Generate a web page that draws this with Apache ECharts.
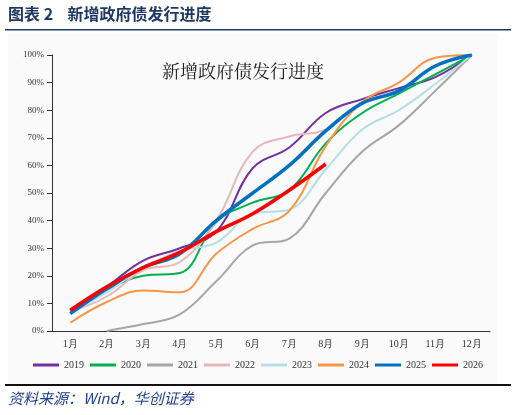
<!DOCTYPE html>
<html><head><meta charset="utf-8">
<script src="https://cdn.jsdelivr.net/npm/echarts@6/dist/echarts.min.js"></script>
<style>body{margin:0;background:#fff;}#c{width:516px;height:415px;}</style>
</head><body><div id="c"></div>
<script>
const months=['1月','2月','3月','4月','5月','6月','7月','8月','9月','10月','11月','12月'];
const yTicks=[0,10,20,30,40,50,60,70,80,90,100];
const s2019=[7,16,25.5,30,36,59,66.5,79,84,88,92,100];
const s2020=[7,15,20,21,39.5,46.5,51,68,79,86,93,100];
const s2021=[null,0,2.5,6,18,31,33.5,50,65,74.5,87,100];
const s2022=[7,12.5,22,25,40,65,70.5,73,83,87,96,100];
const s2023=[7,14,23,29,32,42.5,44,58.5,73,80,89.5,100];
const s2024=[3,10.5,14.7,14,28,37,43.5,67,83,90,99,100];
const s2025=[6.3,15.3,23,28,40,50,60,72.5,82.5,87,96,100];
const s2026=[7.5,16,23,28.5,36,42.5,51,60.5];
const names=['2019','2020','2021','2022','2023','2024','2025','2026'];
const datas=[s2019,s2020,s2021,s2022,s2023,s2024,s2025,s2026];
const colors=['#7030a0','#00b050','#a6a6a6','#e6b9b8','#b7dee8','#f79646','#0070c0','#ff0000'];
const widths=[2,2,2,2,2,2,3.5,3.5];
const serif='"Noto Serif CJK SC","Noto Sans CJK SC",serif';
const chart=echarts.init(document.getElementById('c'));
chart.setOption({
 animation:false,
 graphic:[
  {type:'text',left:8,top:6,style:{text:'图表 2    新增政府债发行进度',font:'bold 16px "Noto Sans CJK SC"',fill:'#1f3864'}},
  {type:'rect',shape:{x:5,y:29,width:506,height:1.5},style:{fill:'#1f3864'}},
  {type:'rect',shape:{x:8,y:34,width:490,height:350},style:{fill:'#fafafa'},z:-10},
  {type:'text',left:162,top:62,style:{text:'新增政府债发行进度',font:'18px '+serif,fill:'#222'}},
  {type:'rect',shape:{x:5,y:384,width:506,height:2},style:{fill:'#111'}},
  {type:'text',left:8,top:391,style:{text:'资料来源：Wind，华创证券',font:'italic 15px "Noto Sans CJK SC"',fill:'#1f3f8f'}}
 ],
 legend:{bottom:40,left:'center',itemWidth:26,itemHeight:3,itemGap:6,icon:'rect',
  textStyle:{fontSize:10,fontFamily:'serif',color:'#333'},data:names},
 grid:{left:52,right:26,top:55,bottom:84},
 xAxis:{type:'category',data:months,boundaryGap:true,
  axisLine:{lineStyle:{color:'#333'}},axisTick:{lineStyle:{color:'#333'}},
  axisLabel:{fontSize:10,fontFamily:'serif',color:'#333'}},
 yAxis:{type:'value',min:0,max:100,interval:10,
  axisLine:{show:true,lineStyle:{color:'#333'}},axisTick:{show:true},splitLine:{show:false},
  axisLabel:{fontSize:9,fontFamily:'serif',color:'#333',formatter:v=>yTicks.includes(v)?v+'%':''}},
 series:names.map((n,i)=>({name:n,type:'line',smooth:0.4,data:datas[i],symbol:'none',
  lineStyle:{width:widths[i],color:colors[i]},itemStyle:{color:colors[i]},z:i+2}))
});
</script></body></html>
